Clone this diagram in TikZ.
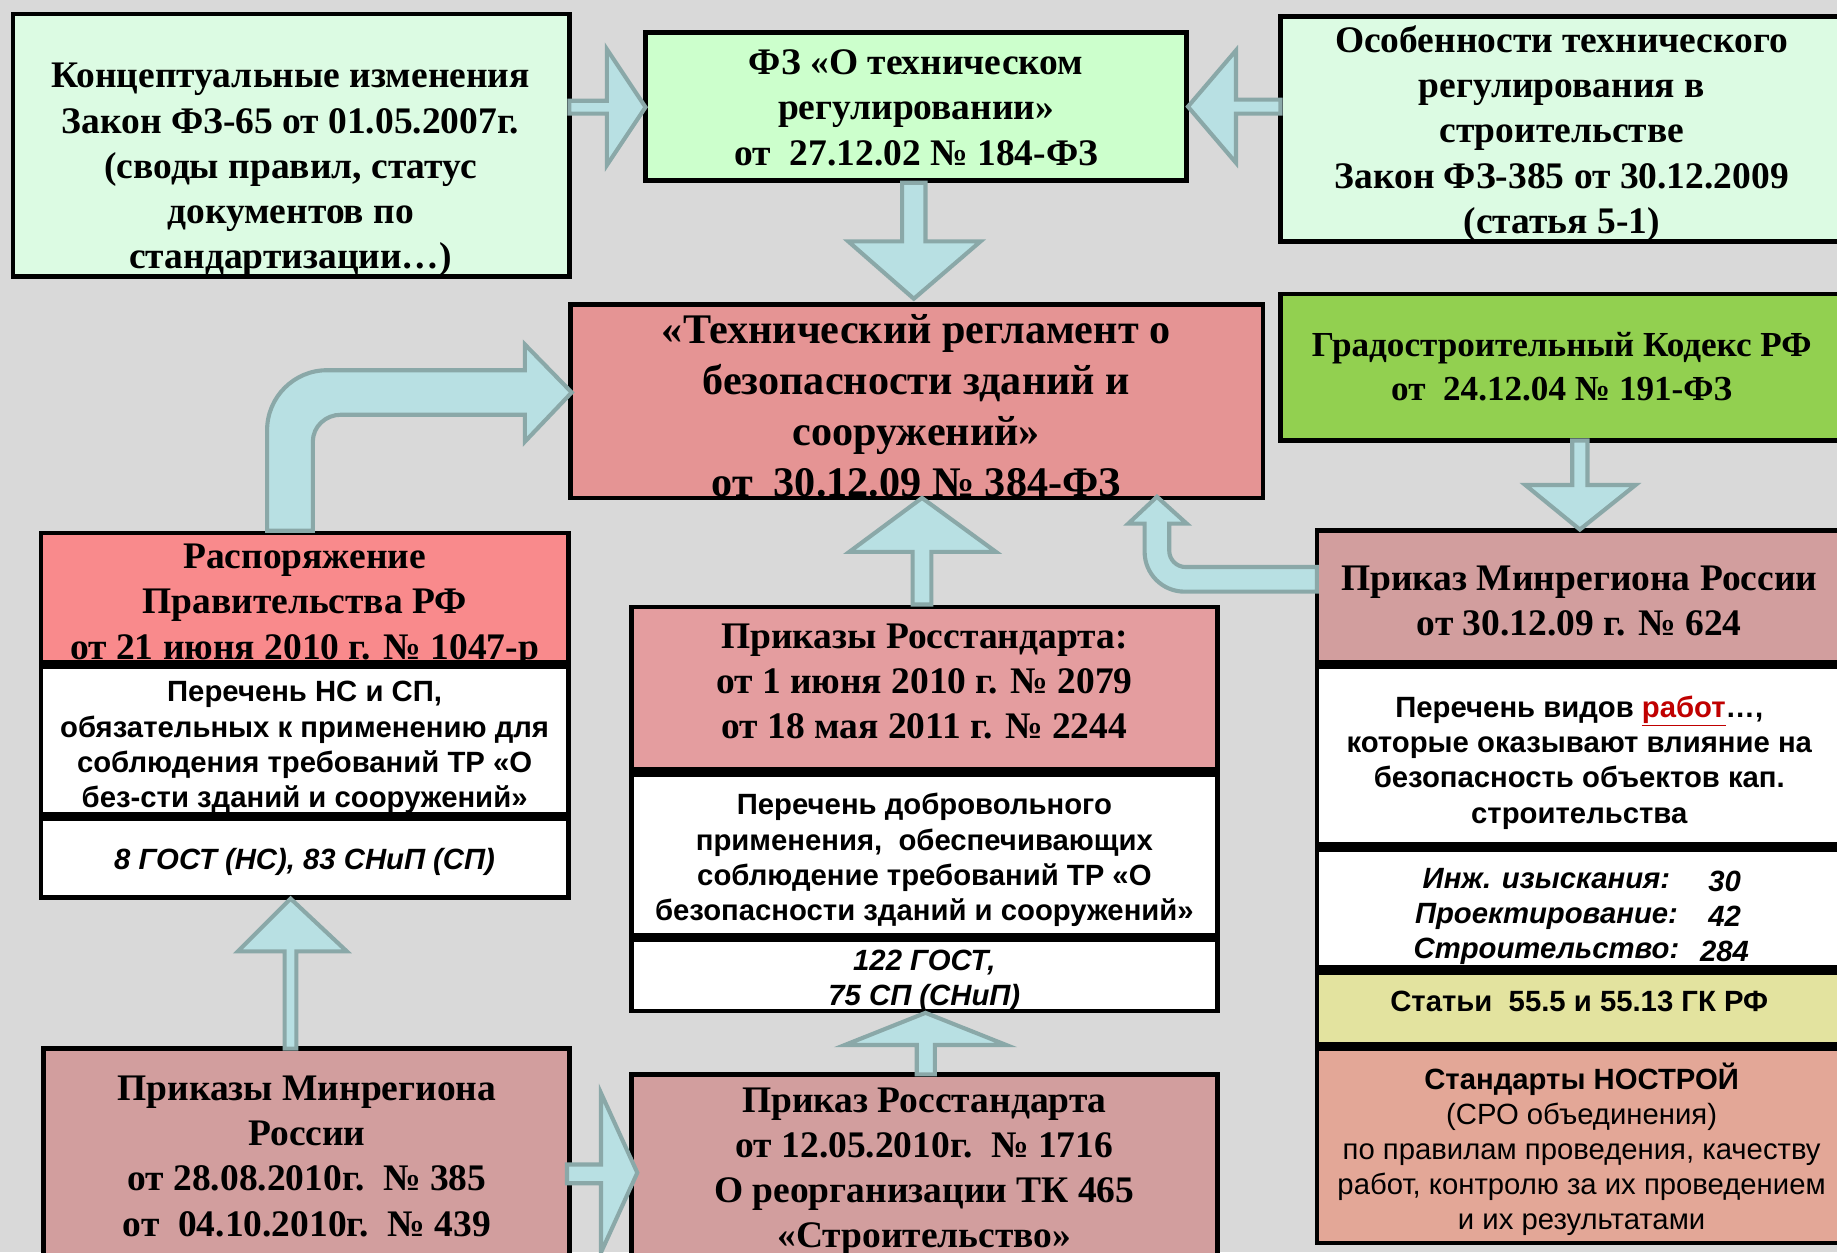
\documentclass[tikz,border=0pt]{standalone}
\usepackage{fontspec}
\setmainfont{Liberation Serif}
\setsansfont{Liberation Sans}
\definecolor{bgc}{RGB}{217,217,217}
\definecolor{mint}{RGB}{220,251,227}
\definecolor{lgreen}{RGB}{204,255,204}
\definecolor{cred}{RGB}{229,148,148}
\definecolor{kgreen}{RGB}{146,208,80}
\definecolor{salmon}{RGB}{249,138,140}
\definecolor{rosred}{RGB}{228,157,159}
\definecolor{dusty}{RGB}{210,158,158}
\definecolor{pyellow}{RGB}{227,227,159}
\definecolor{nostroy}{RGB}{227,167,151}
\definecolor{arrfill}{RGB}{184,224,227}
\definecolor{arrline}{RGB}{138,168,168}
\definecolor{linkred}{RGB}{192,0,0}
\tikzset{
  box/.style={draw=black, line width=4pt, inner sep=0pt},
  serif/.style={font=\fontsize{32}{38.5}\selectfont\bfseries, align=center, inner sep=0pt},
  serifsm/.style={font=\fontsize{30}{37}\selectfont\bfseries, align=center, inner sep=0pt},
  serifbig/.style={font=\fontsize{36}{43.5}\selectfont\bfseries, align=center, inner sep=0pt},
  sansb/.style={font=\sffamily\fontsize{25}{30}\selectfont\bfseries, align=center, inner sep=0pt},
  sansbi/.style={font=\sffamily\fontsize{25}{30}\selectfont\bfseries\itshape, align=center, inner sep=0pt},
  sansr/.style={font=\sffamily\fontsize{25}{30}\selectfont, align=center, inner sep=0pt},
  barrow/.style={fill=arrfill, draw=arrline, line width=3.5pt, line join=miter}
}
\newcommand\bx[6]{\node[box, fill=#6, minimum width={#4-#2-4}, minimum height={#5-#3-4}] (#1) at ({(#2+#4)/2},{(#3+#5)/2}) {};}
\begin{document}
\begin{tikzpicture}[x=1pt,y=-1pt]
\fill[bgc] (0,0) rectangle (1568,1069);
\useasboundingbox (0,0) rectangle (1568,1069);
% boxes
\bx{b1}{9}{10}{488}{238}{mint}
\bx{b2}{549}{26}{1015}{156}{lgreen}
\bx{b3}{1091}{12}{1590}{208}{mint}
\bx{b4}{485}{258}{1080}{427}{cred}
\bx{b5}{1091}{249}{1590}{378}{kgreen}
\bx{b6a}{33}{453}{487}{567}{salmon}
\bx{b6b}{33}{567}{487}{697}{white}
\bx{b6c}{33}{697}{487}{768}{white}
\bx{b7a}{537}{516}{1041}{659}{rosred}
\bx{b7b}{537}{659}{1041}{800}{white}
\bx{b7c}{537}{800}{1041}{865}{white}
\bx{b8a}{1122}{451}{1590}{567}{dusty}
\bx{b8b}{1122}{567}{1590}{723}{white}
\bx{b8c}{1122}{723}{1590}{828}{white}
\bx{b8d}{1122}{828}{1590}{893}{pyellow}
\bx{b8e}{1122}{893}{1590}{1063}{nostroy}
\bx{b9}{35}{893}{488}{1090}{dusty}
\bx{b10}{537}{915}{1041}{1090}{dusty}
% texts
\node[serif] (t1) at (248,145) {Концептуальные изменения\\Закон ФЗ-65 от 01.05.2007г.\\(своды правил, статус\\документов по\\стандартизации…)};
\node[serif] (t2) at (782,92) {ФЗ «О техническом\\регулировании»\\от\ \ 27.12.02 № 184-ФЗ};
\node[serif] (t3) at (1333,114) {Особенности технического\\регулирования в\\строительстве\\Закон ФЗ-385 от 30.12.2009\\(статья 5-1)};
\node[serifbig] (t4) at (782,346) {«Технический регламент о\\безопасности зданий и\\сооружений»\\от\ \ 30.12.09 № 384-ФЗ};
\node[serifsm] (t5) at (1333,313) {Градостроительный Кодекс РФ\\от\ \ 24.12.04 № 191-ФЗ};
\node[serif] (t6a) at (260,517) {Распоряжение\\Правительства РФ\\от 21 июня 2010 г. № 1047-р};
\node[sansb] (t6b) at (260,638) {Перечень НС и СП,\\обязательных к применению для\\соблюдения требований ТР «О\\без-сти зданий и сооружений»};
\node[sansbi] (t6c) at (260,736) {8 ГОСТ (НС), 83 СНиП (СП)};
\node[serif] (t7a) at (789,582) {Приказы Росстандарта:\\от 1 июня 2010 г. № 2079\\от 18 мая 2011 г. № 2244};
\node[sansb] (t7b) at (789,734) {Перечень добровольного\\применения,\ \ обеспечивающих\\соблюдение требований ТР «О\\безопасности зданий и сооружений»};
\node[sansbi] (t7c) at (789,837) {122 ГОСТ,\\75 СП (СНиП)};
\node[serif] (t8a) at (1348,513) {Приказ Минрегиона России\\от 30.12.09 г. № 624};
\node[sansb] (t8b) at (1348,651) {Перечень видов \textcolor{linkred}{\underline{работ}}…,\\которые оказывают влияние на\\безопасность объектов кап.\\строительства};
\node[sansbi] (t8c) at (1320,782) {Инж. изыскания:\\Проектирование:\\Строительство:};
\node[sansbi] (t8cn) at (1472,782) {30\\42\\284};
\node[sansb] (t8d) at (1348,855) {Статьи\ \ 55.5 и 55.13 ГК РФ};
\node[sansr] (t8e) at (1350,981) {\textbf{Стандарты НОСТРОЙ}\\(СРО объединения)\\по правилам проведения, качеству\\работ, контролю за их проведением\\и их результатами};
\node[serif] (t9) at (262,987) {Приказы Минрегиона\\России\\от 28.08.2010г.\ \ № 385\\от\ \ 04.10.2010г.\ \ № 439};
\node[serif] (t10) at (789,1000) {Приказ Росстандарта\\от 12.05.2010г.\ \ № 1716\\О реорганизации ТК 465\\«Строительство»};
% block arrows
\draw[barrow] (486,86) -- (518,86) -- (518,42) -- (551,91.5) -- (518,141) -- (518,97) -- (486,97) -- cycle;
\draw[barrow] (1093,85) -- (1055,85) -- (1055,43) -- (1014,91) -- (1055,139) -- (1055,97) -- (1093,97) -- cycle;
\draw[barrow] (770,156) -- (790,156) -- (790,206) -- (837,206) -- (780,255) -- (724,206) -- (770,206) -- cycle;
\draw[barrow] (228,453) -- (228,367) .. controls (228,339) and (251,316) .. (279,316) -- (448,316) -- (448,294) -- (488,335) -- (448,377) -- (448,354) -- (291,354) .. controls (278,354) and (267,364) .. (267,377) -- (267,453) -- cycle;
\draw[barrow] (779,516) -- (795,516) -- (795,471) -- (850,471) -- (787,425) -- (725,471) -- (779,471) -- cycle;
\draw[barrow] (1124,484) -- (1012,484) .. controls (1004.3,484) and (998,477.7) .. (998,470) -- (998,447) -- (1013,447) -- (987.5,424) -- (963,447) -- (977,447) -- (977,471) .. controls (977,489.8) and (992.2,505) .. (1011,505) -- (1124,505) -- cycle;
\draw[barrow] (1342,376) -- (1355,376) -- (1355,414) -- (1396,414) -- (1348.5,452) -- (1302,414) -- (1342,414) -- cycle;
\draw[barrow] (243,895) -- (253,895) -- (253,812) -- (296,812) -- (248,767) -- (203,812) -- (243,812) -- cycle;
\draw[barrow] (484,994) -- (513,994) -- (513,933) -- (544,1001) -- (513,1069) -- (513,1010) -- (484,1010) -- cycle;
\draw[barrow] (782.5,917) -- (798,917) -- (798,892) -- (859,892) -- (790,864.5) -- (721,892) -- (782.5,892) -- cycle;
\end{tikzpicture}
\end{document}
